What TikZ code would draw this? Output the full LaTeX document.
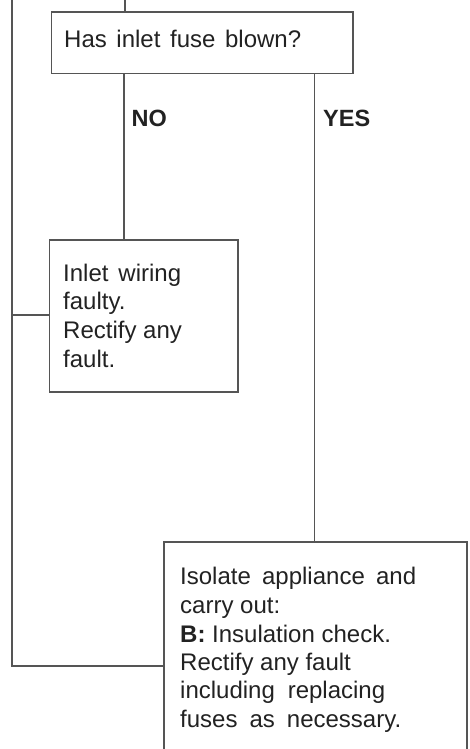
\documentclass[tikz,border=0pt]{standalone}
\usepackage{fontspec}
\setmainfont{Liberation Sans}
\definecolor{linegray}{HTML}{555555}
\definecolor{txtgray}{HTML}{222222}
\newcommand{\spreadto}[2]{\makebox[#1][s]{#2}}
\begin{document}
\begin{tikzpicture}[x=1pt,y=-1pt,
  box/.style={draw=linegray,line width=1.5pt,fill=white,rectangle,inner sep=0pt,anchor=north west},
  wire/.style={draw=linegray,line width=1.5pt},
  txt/.style={anchor=base west,inner sep=0pt,text=txtgray,font=\fontsize{24}{28.7}\selectfont},
  lbl/.style={anchor=base west,inner sep=0pt,text=txtgray,font=\fontsize{23.5}{28.7}\selectfont\bfseries}]
\useasboundingbox (0,0) rectangle (469,749);
% frames
\node[box,minimum width=301.5pt,minimum height=61.5pt] (q) at (50.5,11.5) {};
\node[box,minimum width=188.5pt,minimum height=152pt] (w) at (48.5,239) {};
\node[box,minimum width=303pt,minimum height=230pt] (b) at (163,541) {};
% connector points
\coordinate (top) at (125,0);
\coordinate (ltop) at (12,0);
\coordinate (lw) at (12,315);
\coordinate (lb) at (12,666);
% connectors
\draw[wire] (top) -- (top |- q.north);
\draw[wire] (124,0 |- q.south) coordinate (nos) -- (nos |- w.north);
\draw[wire] (314.5,0 |- q.south) coordinate (yss) -- (yss |- b.north);
\draw[wire] (ltop) -- (lb) -- (lb -| b.west);
\draw[wire] (lw) -- (lw -| w.west);
% texts
\node[txt] (qt) at (64,48) {\spreadto{237pt}{Has inlet fuse blown?}};
\node[lbl] (no) at (131.5,126) {NO};
\node[lbl] (yes) at (323,126) {YES};
\node[txt] (w1) at (63,281) {\spreadto{118pt}{Inlet wiring}};
\node[txt] (w2) at (63,309.5) {faulty.};
\node[txt] (w3) at (63,338) {Rectify any};
\node[txt] (w4) at (63,367) {fault.};
\node[txt] (b1) at (180,584) {\spreadto{236pt}{Isolate appliance and}};
\node[txt] (b2) at (180,613) {carry out:};
\node[txt] (b3) at (180,642) {\textbf{B:} Insulation check.};
\node[txt] (b4) at (180,670) {Rectify any fault};
\node[txt] (b5) at (180,698.5) {\spreadto{205pt}{including replacing}};
\node[txt] (b6) at (180,727) {\spreadto{221pt}{fuses as necessary.}};
\end{tikzpicture}
\end{document}
